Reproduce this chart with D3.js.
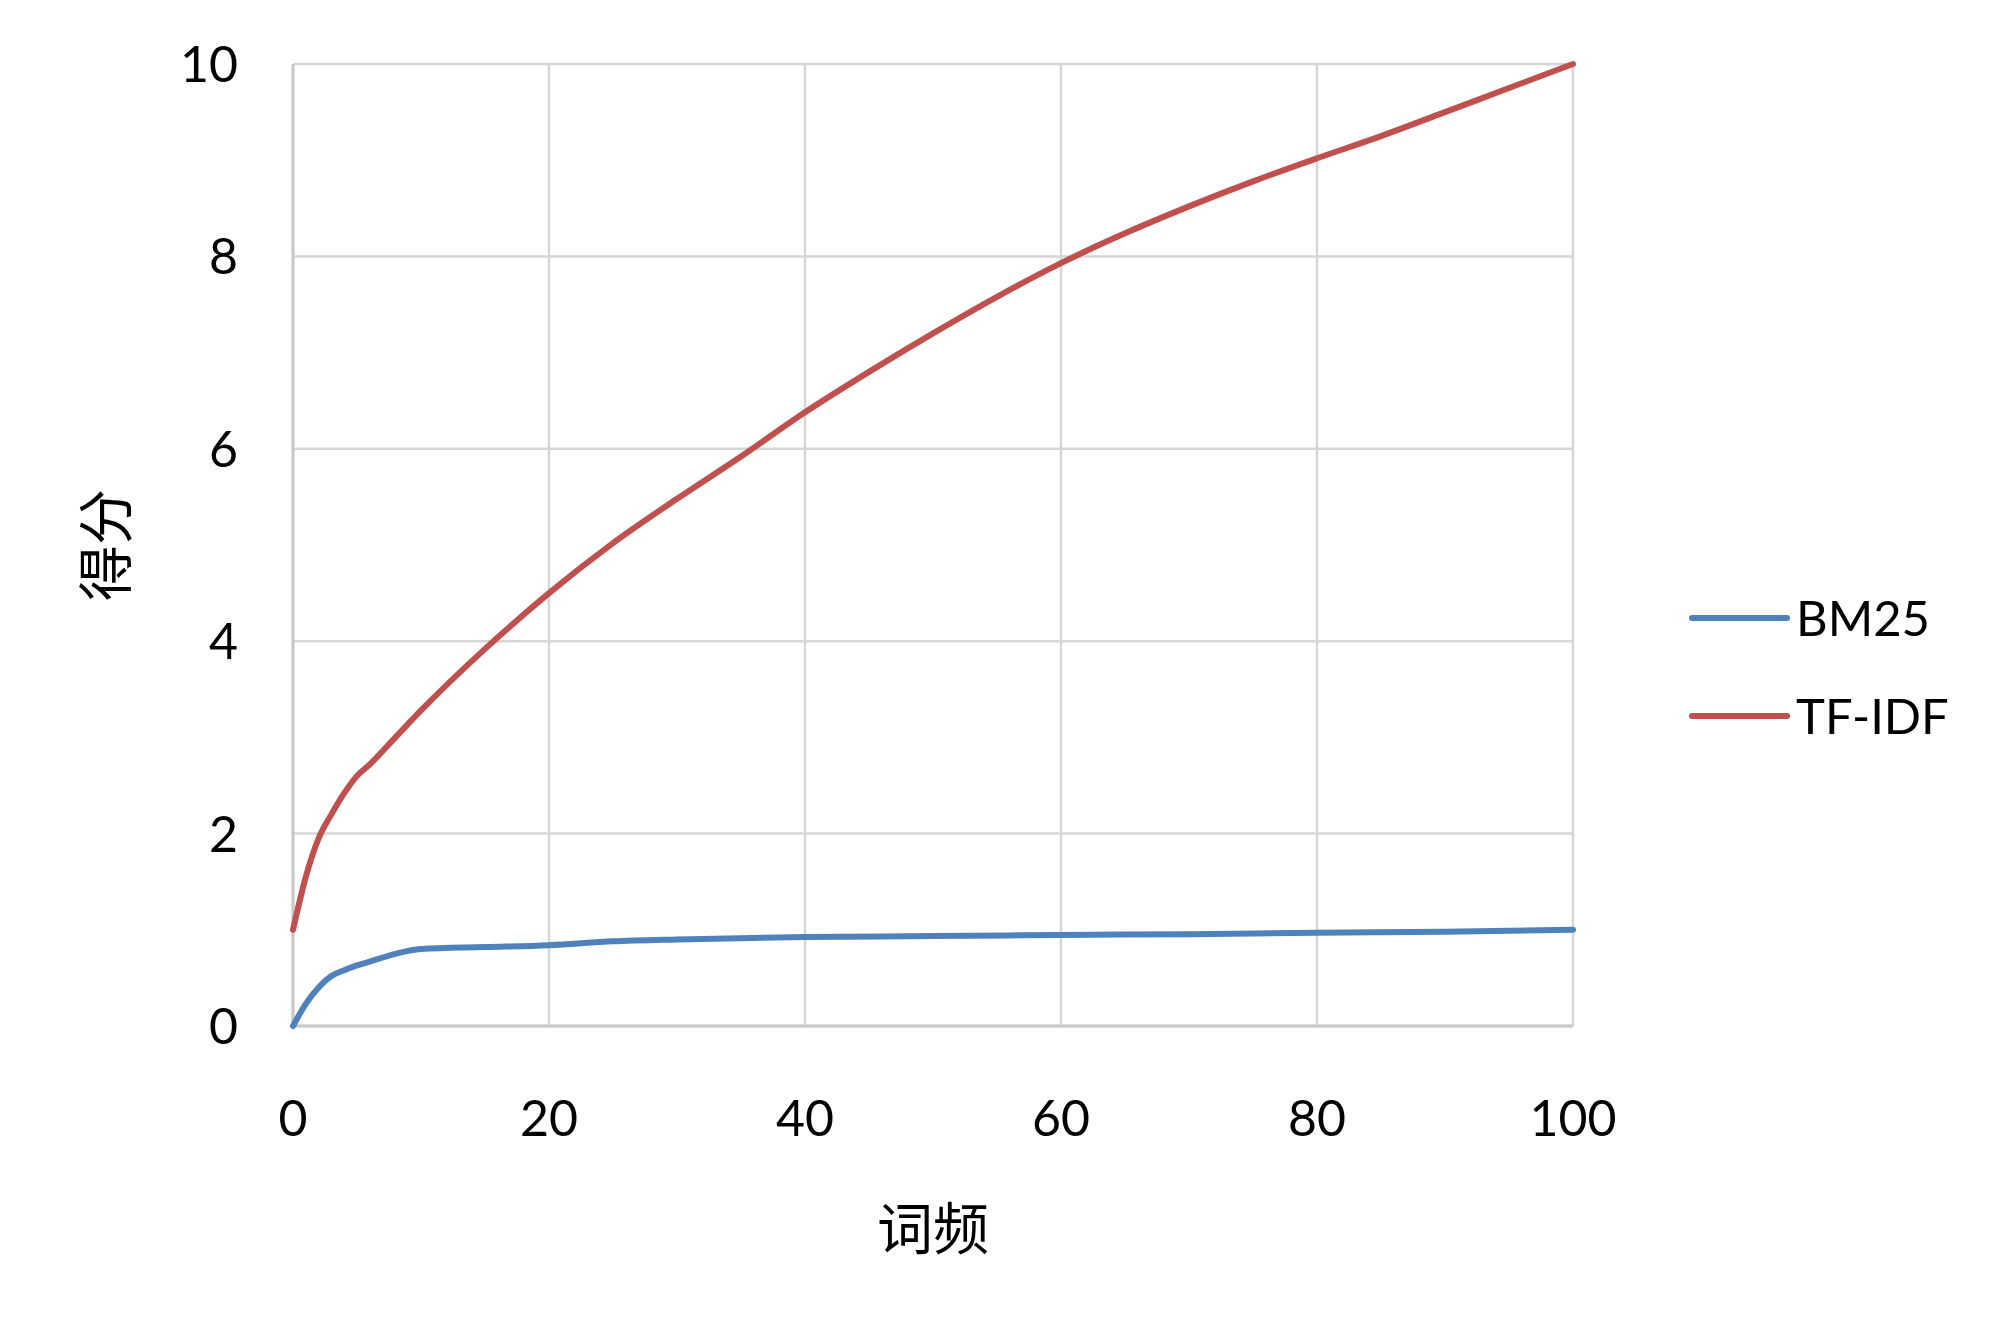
<!DOCTYPE html>
<html>
<head>
<meta charset="utf-8">
<script src="https://cdn.jsdelivr.net/npm/d3@7"></script>
<style>
  html, body { margin: 0; padding: 0; background: #fff; }
  svg { display: block; }
</style>
</head>
<body>
<script>
// term frequency (x) for each series
const bm25Tf = [0, 1, 2, 3, 4, 5, 6, 8, 10, 15, 20, 25, 30, 40, 50, 60, 70, 80, 90, 100];
const bm25Score = [0, 0.23, 0.4, 0.52, 0.58, 0.63, 0.67, 0.75, 0.8, 0.82, 0.84, 0.88, 0.9, 0.925, 0.935, 0.946, 0.955, 0.97, 0.98, 1.0];

const tfidfTf = [0, 1, 2, 3, 4, 5, 6, 8, 10, 15, 20, 25, 30, 35, 40, 45, 50, 55, 60, 65, 70, 75, 80, 85, 90, 95, 100];
const tfidfScore = [1.0, 1.55, 1.95, 2.2, 2.42, 2.6, 2.72, 3.0, 3.28, 3.92, 4.5, 5.02, 5.48, 5.92, 6.38, 6.8, 7.2, 7.58, 7.93, 8.24, 8.52, 8.78, 9.02, 9.25, 9.5, 9.75, 10.0];

const xTicks = [0, 20, 40, 60, 80, 100];
const yTicks = [0, 2, 4, 6, 8, 10];

const seriesNames = ["BM25", "TF-IDF"];
const seriesColors = ["#4f81bd", "#c0504d"];

const width = 1999;
const height = 1339;
const margin = { left: 293, right: 426, top: 64, bottom: 313 };

const svg = d3.select("body").append("svg")
  .attr("width", width)
  .attr("height", height);

const x = d3.scaleLinear().domain([0, 100]).range([margin.left, width - margin.right]);
const y = d3.scaleLinear().domain([0, 10]).range([height - margin.bottom, margin.top]);

const numFont = "Lato, 'Open Sans', sans-serif";
const cjkFont = "'Noto Sans CJK SC', sans-serif";

// grid
const grid = svg.append("g").attr("stroke", "#d6d6d6").attr("stroke-width", 2.5);
grid.selectAll("line.h").data(yTicks).join("line")
  .attr("x1", x(0)).attr("x2", x(100))
  .attr("y1", d => y(d)).attr("y2", d => y(d));
grid.selectAll("line.v").data(xTicks).join("line")
  .attr("y1", y(0)).attr("y2", y(10))
  .attr("x1", d => x(d)).attr("x2", d => x(d));

// axis lines a little darker
svg.append("line").attr("x1", x(0)).attr("x2", x(0)).attr("y1", y(0)).attr("y2", y(10))
  .attr("stroke", "#c8c8c8").attr("stroke-width", 3);
svg.append("line").attr("x1", x(0)).attr("x2", x(100)).attr("y1", y(0)).attr("y2", y(0))
  .attr("stroke", "#c8c8c8").attr("stroke-width", 3);

// tick labels
svg.append("g").selectAll("text").data(yTicks).join("text")
  .attr("x", 238).attr("y", d => y(d))
  .attr("dy", "0.36em")
  .attr("text-anchor", "end")
  .style("font", `50px ${numFont}`)
  .attr("fill", "#000")
  .text(d => d);

svg.append("g").selectAll("text").data(xTicks).join("text")
  .attr("x", d => x(d)).attr("y", 1118)
  .attr("dy", "0.36em")
  .attr("text-anchor", "middle")
  .style("font", `50px ${numFont}`)
  .attr("fill", "#000")
  .text(d => d);

// axis titles
svg.append("text")
  .attr("x", 933).attr("y", 1228)
  .attr("dy", "0.38em")
  .attr("text-anchor", "middle")
  .style("font", `56px ${cjkFont}`)
  .text("词频");

svg.append("text")
  .attr("transform", "translate(105,545) rotate(-90)")
  .attr("dy", "0.38em")
  .attr("text-anchor", "middle")
  .style("font", `56px ${cjkFont}`)
  .text("得分");

// lines
const line = d3.line()
  .x(d => x(d[0]))
  .y(d => y(d[1]))
  .curve(d3.curveMonotoneX);

const series = [
  d3.zip(bm25Tf, bm25Score),
  d3.zip(tfidfTf, tfidfScore)
];

svg.append("g").selectAll("path").data(series).join("path")
  .attr("d", line)
  .attr("fill", "none")
  .attr("stroke", (d, i) => seriesColors[i])
  .attr("stroke-width", 6)
  .attr("stroke-linecap", "round")
  .attr("stroke-linejoin", "round");

// legend
const legend = svg.append("g").selectAll("g").data(seriesNames).join("g")
  .attr("transform", (d, i) => `translate(1692,${618 + i * 98})`);
legend.append("line")
  .attr("x1", 0).attr("x2", 95)
  .attr("stroke", (d, i) => seriesColors[i])
  .attr("stroke-width", 6)
  .attr("stroke-linecap", "round");
legend.append("text")
  .attr("x", 104)
  .attr("dy", "0.36em")
  .style("font", `49px ${numFont}`)
  .text(d => d);
</script>
</body>
</html>
